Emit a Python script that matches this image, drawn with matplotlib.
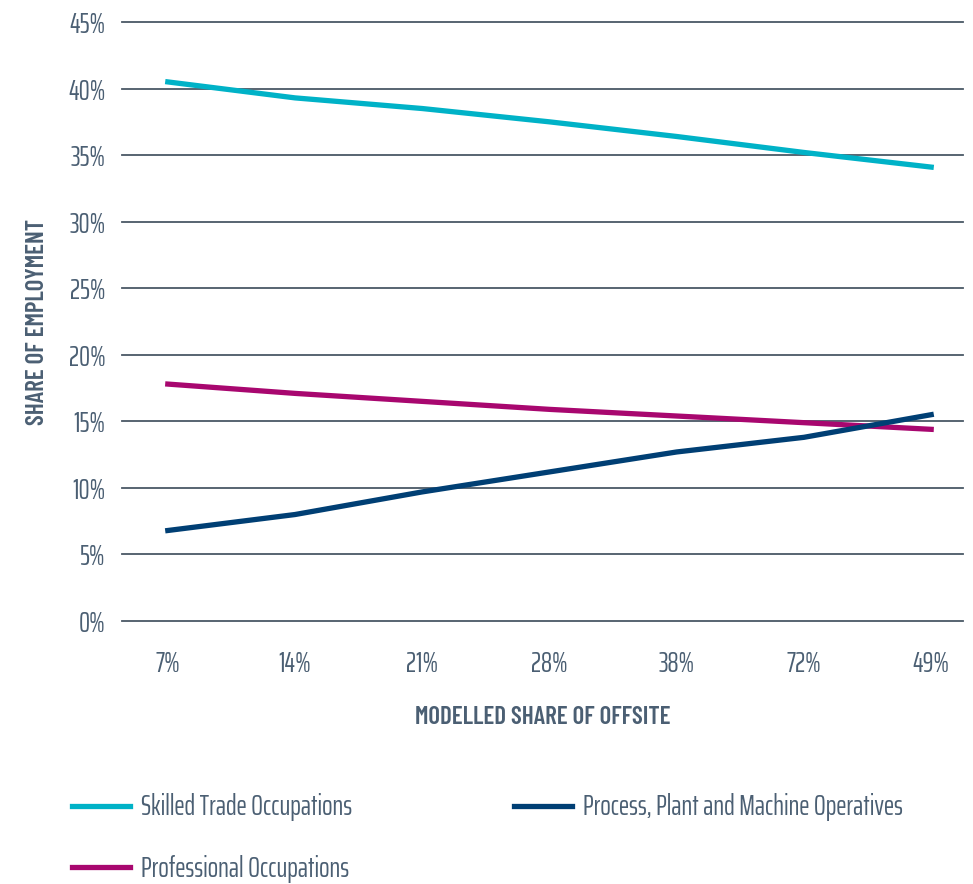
import matplotlib
matplotlib.use("Agg")
import matplotlib.pyplot as plt

categories = ["7%", "14%", "21%", "28%", "38%", "72%", "49%"]
skilled = [40.5, 39.3, 38.5, 37.5, 36.4, 35.2, 34.1]
professional = [17.8, 17.1, 16.5, 15.9, 15.4, 14.9, 14.4]
process = [6.8, 8.0, 9.7, 11.2, 12.7, 13.8, 15.5]
y_ticks = [0, 5, 10, 15, 20, 25, 30, 35, 40, 45]

FONT = ["Saira ExtraCondensed", "DejaVu Sans"]
TITLE_FONT = ["Barlow Condensed", "DejaVu Sans"]

TEXT = "#4b5f73"
GRID = "#4a5866"
CYAN = "#00b2c7"
MAGENTA = "#a8076f"
NAVY = "#003f74"

fig = plt.figure(figsize=(9.73, 8.84), dpi=100)
ax = fig.add_axes([0.1254, 0.2975, 0.8643, 0.6776])

x = list(range(len(categories)))

for t in y_ticks:
    ax.axhline(t, color=GRID, lw=1.3, clip_on=False, zorder=1)

l1, = ax.plot(x, skilled, color=CYAN, lw=3.8, label="Skilled Trade Occupations", zorder=3)
l2, = ax.plot(x, professional, color=MAGENTA, lw=3.8, label="Professional Occupations", zorder=3)
l3, = ax.plot(x, process, color=NAVY, lw=3.8, label="Process, Plant and Machine Operatives", zorder=3)

ax.set_ylim(0, 45)
ax.set_xlim(-0.36, 6.25)
ax.set_yticks(y_ticks)
ax.set_yticklabels([f"{t}%" for t in y_ticks], family=FONT, fontsize=20, color=TEXT)
ax.set_xticks(x)
ax.set_xticklabels(categories, family=FONT, fontsize=20, color=TEXT)
ax.tick_params(axis="y", length=0, pad=12)
ax.tick_params(axis="x", length=0, pad=21)
for s in ax.spines.values():
    s.set_visible(False)

ax.set_xlabel("MODELLED SHARE OF OFFSITE", family=TITLE_FONT, fontsize=18, fontweight="semibold",
              color=TEXT, labelpad=20)
ax.set_ylabel("SHARE OF EMPLOYMENT", family=TITLE_FONT, fontsize=18, fontweight="semibold",
              color=TEXT, labelpad=14)

leg = fig.legend(handles=[l1, l2, l3], ncol=2, loc="upper left",
                 bbox_to_anchor=(0.074, 0.1025), frameon=False,
                 prop={"family": FONT, "size": 20}, labelcolor=TEXT,
                 handlelength=2.1, handletextpad=0.4, columnspacing=5.8,
                 labelspacing=1.2, borderpad=0, borderaxespad=0)

fig.savefig("out.png", dpi=100)
